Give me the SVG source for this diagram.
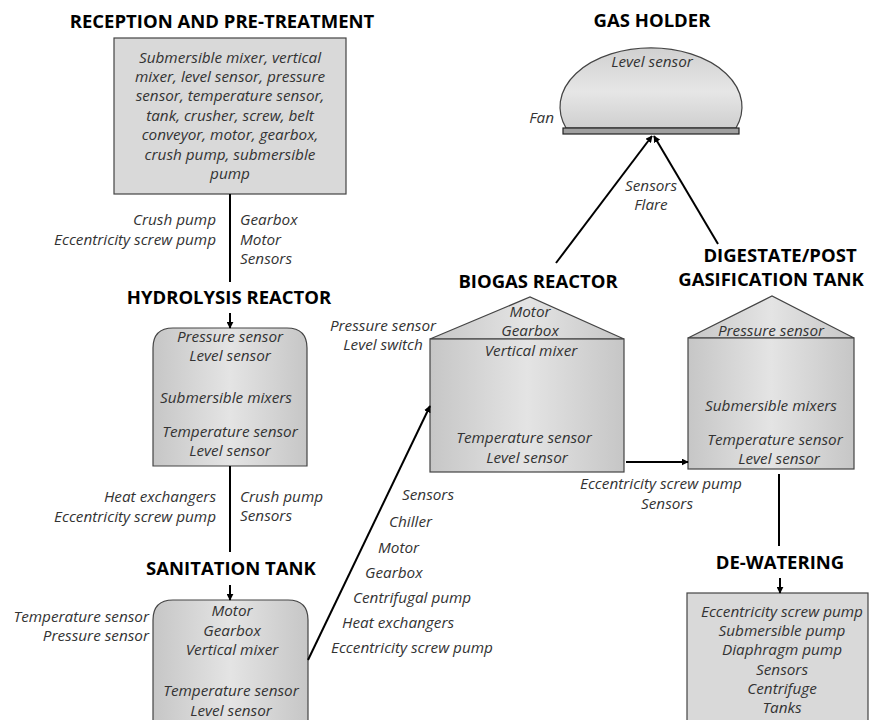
<svg xmlns="http://www.w3.org/2000/svg" width="870" height="720" viewBox="0 0 870 720">
<defs>
<linearGradient id="gh" x1="0" y1="0" x2="1" y2="0">
<stop offset="0" stop-color="#c6c6c6"/>
<stop offset="0.5" stop-color="#e4e4e4"/>
<stop offset="1" stop-color="#c6c6c6"/>
</linearGradient>
<linearGradient id="gv" x1="0" y1="0" x2="0" y2="1">
<stop offset="0" stop-color="#d0d0d0"/>
<stop offset="0.55" stop-color="#e6e6e6"/>
<stop offset="1" stop-color="#cfcfcf"/>
</linearGradient>
<marker id="ah" viewBox="0 0 10 10" refX="9" refY="5" markerWidth="7" markerHeight="7" orient="auto" markerUnits="userSpaceOnUse">
<path d="M0,0 L10,5 L0,10 z" fill="#000"/>
</marker>
<style>
.t{font-family:"Open Sans","Noto Sans",sans-serif;font-weight:bold;font-size:18.5px;fill:#000;text-anchor:middle}
.i{font-family:"Open Sans","Noto Sans",sans-serif;font-style:italic;font-size:15.3px;fill:#333}
.c{text-anchor:middle}
.r{text-anchor:end}
.box{stroke:#444;stroke-width:1.2}
.ln{stroke:#000;stroke-width:2;fill:none}
</style>
</defs>

<g id="reception">
<text class="t" x="222" y="28">RECEPTION AND PRE-TREATMENT</text>
<rect class="box" x="114" y="38" width="232" height="156" fill="#d9d9d9"/>
<text class="i c" x="230" y="63">Submersible mixer, vertical</text>
<text class="i c" x="230" y="82">mixer, level sensor, pressure</text>
<text class="i c" x="230" y="101">sensor, temperature sensor,</text>
<text class="i c" x="230" y="121">tank, crusher, screw, belt</text>
<text class="i c" x="230" y="140">conveyor, motor, gearbox,</text>
<text class="i c" x="230" y="160">crush pump, submersible</text>
<text class="i c" x="230" y="179">pump</text>
</g>

<g id="hydrolysis">
<text class="t" x="229" y="304">HYDROLYSIS REACTOR</text>
<path class="box" d="M153,466 V348 Q153,328 173,328 H287 Q307,328 307,348 V466 Z" fill="url(#gh)"/>
<text class="i c" x="230" y="342">Pressure sensor</text>
<text class="i c" x="230" y="361">Level sensor</text>
<text class="i c" x="226" y="403">Submersible mixers</text>
<text class="i c" x="230" y="437">Temperature sensor</text>
<text class="i c" x="230" y="456">Level sensor</text>
</g>

<g id="sanitation">
<text class="t" x="231" y="575">SANITATION TANK</text>
<path class="box" d="M153,730 V620 Q153,600 173,600 H288 Q308,600 308,620 V730 Z" fill="url(#gh)"/>
<text class="i c" x="232" y="616">Motor</text>
<text class="i c" x="232" y="636">Gearbox</text>
<text class="i c" x="232" y="655">Vertical mixer</text>
<text class="i c" x="231" y="696">Temperature sensor</text>
<text class="i c" x="231" y="716">Level sensor</text>
<text class="i r" x="149" y="622">Temperature sensor</text>
<text class="i r" x="149" y="641">Pressure sensor</text>
</g>

<g id="biogas">
<text class="t" x="538" y="288">BIOGAS REACTOR</text>
<path class="box" d="M430,339 L530,297 L624,339 Z" fill="url(#gh)"/>
<rect class="box" x="430" y="339" width="194" height="133" fill="url(#gh)"/>
<text class="i c" x="530" y="317">Motor</text>
<text class="i c" x="530" y="336">Gearbox</text>
<text class="i c" x="531" y="356">Vertical mixer</text>
<text class="i c" x="524" y="443">Temperature sensor</text>
<text class="i c" x="527" y="463">Level sensor</text>
<text class="i c" x="383" y="331">Pressure sensor</text>
<text class="i c" x="383" y="350">Level switch</text>
</g>

<g id="digestate">
<text class="t" x="780" y="262">DIGESTATE/POST</text>
<text class="t" x="771" y="286">GASIFICATION TANK</text>
<path class="box" d="M688,338 L772,296 L854,338 Z" fill="url(#gh)"/>
<rect class="box" x="688" y="338" width="166" height="131" fill="url(#gh)"/>
<text class="i c" x="771" y="336">Pressure sensor</text>
<text class="i c" x="771" y="411">Submersible mixers</text>
<text class="i c" x="775" y="445">Temperature sensor</text>
<text class="i c" x="779" y="464">Level sensor</text>
</g>

<g id="dewatering">
<text class="t" x="780" y="569">DE-WATERING</text>
<rect class="box" x="687" y="593" width="181" height="140" fill="#d9d9d9"/>
<text class="i c" x="782" y="617">Eccentricity screw pump</text>
<text class="i c" x="782" y="636">Submersible pump</text>
<text class="i c" x="782" y="655">Diaphragm pump</text>
<text class="i c" x="782" y="675">Sensors</text>
<text class="i c" x="782" y="694">Centrifuge</text>
<text class="i c" x="782" y="713">Tanks</text>
</g>

<g id="gasholder">
<text class="t" x="652" y="27">GAS HOLDER</text>
<path class="box" d="M566,128 A91,59 0 1 1 736,128 Z" fill="url(#gv)"/>
<rect x="563" y="128" width="176" height="6" fill="#a0a0a0" stroke="#222" stroke-width="1.2"/>
<text class="i c" x="652" y="67">Level sensor</text>
<text class="i r" x="554" y="123">Fan</text>
</g>

<g id="connectors">
<line class="ln" x1="230" y1="194" x2="230" y2="282"/>
<text class="i r" x="216" y="225">Crush pump</text>
<text class="i r" x="216" y="245">Eccentricity screw pump</text>
<text class="i" x="240" y="225">Gearbox</text>
<text class="i" x="240" y="245">Motor</text>
<text class="i" x="240" y="264">Sensors</text>
<line class="ln" x1="230" y1="313" x2="230" y2="328" stroke-width="1.5" marker-end="url(#ah)"/>

<line class="ln" x1="230" y1="466" x2="230" y2="552"/>
<text class="i r" x="216" y="502">Heat exchangers</text>
<text class="i r" x="216" y="522">Eccentricity screw pump</text>
<text class="i" x="240" y="502">Crush pump</text>
<text class="i" x="240" y="521">Sensors</text>
<line class="ln" x1="230" y1="585" x2="230" y2="600" stroke-width="1.5" marker-end="url(#ah)"/>

<line class="ln" x1="308" y1="660" x2="430" y2="406" marker-end="url(#ah)"/>
<text class="i" x="402" y="500">Sensors</text>
<text class="i" x="389" y="527">Chiller</text>
<text class="i" x="378" y="553">Motor</text>
<text class="i" x="365" y="578">Gearbox</text>
<text class="i" x="353" y="603">Centrifugal pump</text>
<text class="i" x="342" y="628">Heat exchangers</text>
<text class="i" x="331" y="653">Eccentricity screw pump</text>

<line class="ln" x1="626" y1="462" x2="688" y2="462" marker-end="url(#ah)"/>
<text class="i c" x="661" y="489">Eccentricity screw pump</text>
<text class="i c" x="667" y="509">Sensors</text>

<line class="ln" x1="779" y1="474" x2="779" y2="546"/>
<line class="ln" x1="780" y1="578" x2="780" y2="593" stroke-width="1.5" marker-end="url(#ah)"/>

<line class="ln" x1="556" y1="263" x2="652" y2="136" marker-end="url(#ah)"/>
<line class="ln" x1="718" y1="244" x2="654" y2="136" marker-end="url(#ah)"/>
<text class="i c" x="651" y="191">Sensors</text>
<text class="i c" x="651" y="210">Flare</text>
</g>
</svg>
